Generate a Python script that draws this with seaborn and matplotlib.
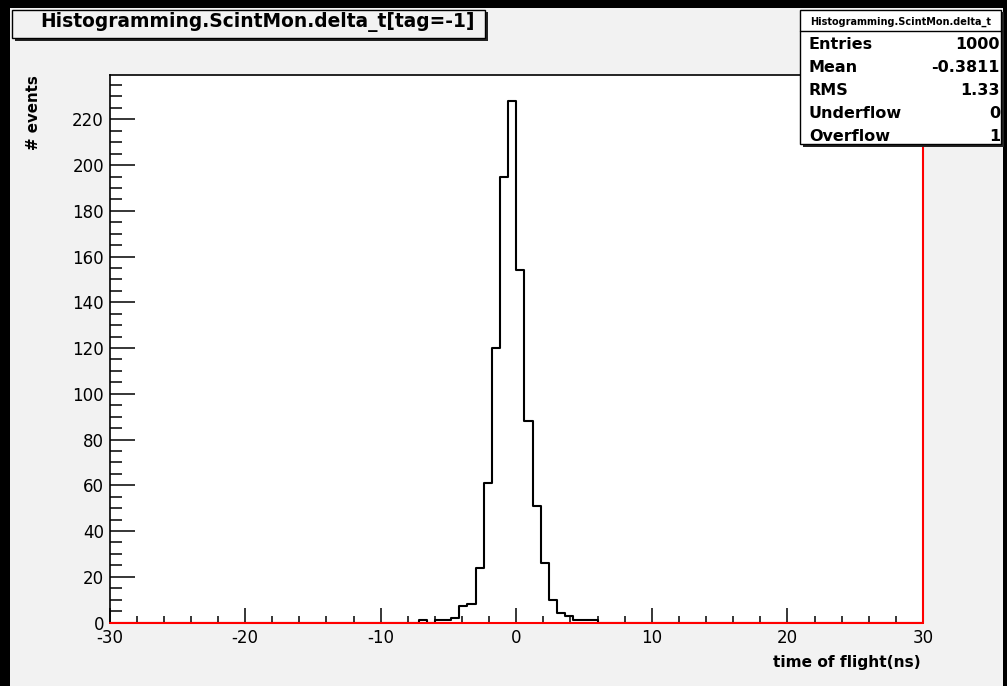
import pandas as pd
import matplotlib
matplotlib.use("Agg")
import matplotlib.pyplot as plt
import seaborn as sns
from matplotlib.patches import Rectangle
from matplotlib.ticker import MultipleLocator

# histogram contents (bins of 0.6 ns between -30 and 30)
bin_low = [-7.2, -6.0, -5.4, -4.8, -4.2, -3.6, -3.0, -2.4, -1.8, -1.2, -0.6,
           0.0, 0.6, 1.2, 1.8, 2.4, 3.0, 3.6, 4.2, 4.8, 5.4]
counts = [1, 1, 1, 2, 7, 8, 24, 61, 120, 195, 228,
          154, 88, 51, 26, 10, 4, 3, 1, 1, 1]
x_range = (-30, 30)
n_bins = 100

title = "Histogramming.ScintMon.delta_t[tag=-1]"
stat_title = "Histogramming.ScintMon.delta_t"
stat_names = ["Entries", "Mean", "RMS", "Underflow", "Overflow"]
stat_values = ["1000", "-0.3811", "1.33", "0", "1"]

W, H = 1007, 686
CANVAS = "#f2f2f2"


def fx(x):
    return x / W


def fy(y):
    return 1 - y / H


sns.set_style("ticks")
plt.rcParams["font.family"] = ["DejaVu Sans"]
plt.rcParams["text.color"] = "black"
plt.rcParams["axes.unicode_minus"] = False

fig = plt.figure(figsize=(W / 100, H / 100), dpi=100)
fig.patch.set_facecolor("black")
fig.patches.append(Rectangle((fx(10), 0), fx(993), 1 - 8 / H, transform=fig.transFigure,
                             facecolor=CANVAS, edgecolor="none", zorder=-10))

ax = fig.add_axes([fx(109.5), fy(622.5), fx(923 - 109.5), (622.5 - 75) / H])
ax.set_facecolor("white")

width = (x_range[1] - x_range[0]) / n_bins
df = pd.DataFrame({"t": [b + width / 2 for b in bin_low], "n": counts})
sns.histplot(data=df, x="t", weights="n", bins=n_bins, binrange=x_range,
             element="step", fill=False, color="black", linewidth=1.5, ax=ax)

ax.set_xlim(*x_range)
ax.set_ylim(0, max(counts) * 1.05)

# red outline along the baseline and the right edge
ax.plot(x_range, [0, 0], color="red", lw=1.5, zorder=5, clip_on=False)
ax.plot([x_range[1], x_range[1]], [0, 262], color="red", lw=1.5, zorder=5, clip_on=False)

ax.xaxis.set_major_locator(MultipleLocator(10))
ax.xaxis.set_minor_locator(MultipleLocator(2))
ax.yaxis.set_major_locator(MultipleLocator(20))
ax.yaxis.set_minor_locator(MultipleLocator(5))
ax.tick_params(axis="both", which="both", direction="in", colors="black",
               labelsize=12, width=1.1)
ax.tick_params(axis="y", which="major", length=18, pad=4)
ax.tick_params(axis="y", which="minor", length=8.5)
ax.tick_params(axis="x", which="major", length=11, pad=5)
ax.tick_params(axis="x", which="minor", length=5)
for s in ax.spines.values():
    s.set_color("black")
    s.set_linewidth(1.2)
    s.set_visible(True)
ax.set_xlabel("")
ax.set_ylabel("")

fig.text(fx(921), fy(667), "time of flight(ns)", ha="right", va="baseline",
         fontsize=11.1, fontweight="bold")
fig.text(fx(33), fy(75), "# events", ha="center", va="top", rotation=90,
         fontsize=10.8, fontweight="bold")


# boxes with a dark drop shadow, like the ROOT canvas
def shadow_box(x0, y0, x1, y1, face):
    fig.patches.append(Rectangle((fx(x0 + 2.5), fy(y1 + 2.5)), fx(x1 - x0), (y1 - y0) / H,
                                 transform=fig.transFigure, facecolor="#222222",
                                 edgecolor="none", zorder=8))
    fig.patches.append(Rectangle((fx(x0), fy(y1)), fx(x1 - x0), (y1 - y0) / H,
                                 transform=fig.transFigure, facecolor=face,
                                 edgecolor="black", lw=1, zorder=9))


shadow_box(12, 10, 485, 38, CANVAS)
fig.text(fx(257), fy(27.5), title, ha="center", va="baseline", fontsize=13.4,
         fontweight="bold", zorder=10)

# stats box
shadow_box(800, 10, 1001, 144, "white")
fig.lines.append(plt.Line2D([fx(800), fx(1001)], [fy(31), fy(31)],
                            transform=fig.transFigure, color="black", lw=1, zorder=10))
fig.text(fx(901), fy(24.5), stat_title, ha="center", va="baseline", fontsize=7,
         fontweight="bold", zorder=10)
for i, (name, val) in enumerate(zip(stat_names, stat_values)):
    y = 49.3 + i * 23
    fig.text(fx(809), fy(y), name, ha="left", va="baseline", fontsize=11.5,
             fontweight="bold", zorder=10)
    fig.text(fx(1000), fy(y), val, ha="right", va="baseline", fontsize=11.5,
             fontweight="bold", zorder=10)

fig.savefig("out.png", dpi=100, facecolor=fig.get_facecolor())
